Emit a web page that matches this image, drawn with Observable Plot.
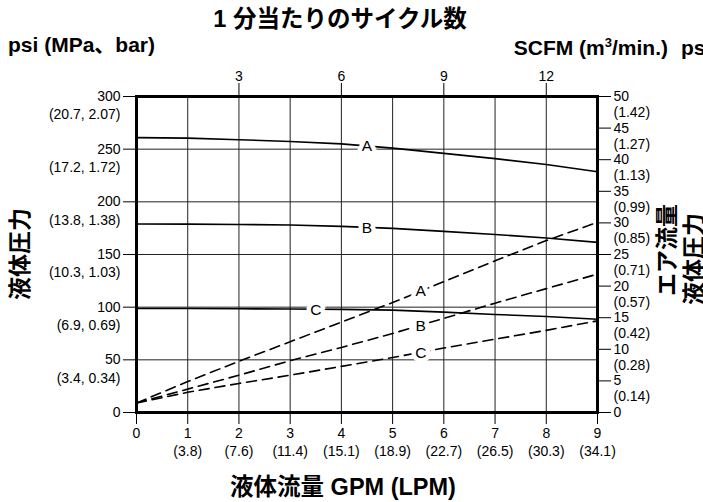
<!DOCTYPE html>
<html>
<head>
<meta charset="utf-8">
<script src="https://cdn.jsdelivr.net/npm/d3@7"></script>
<script src="https://cdn.jsdelivr.net/npm/@observablehq/plot@0.6"></script>
<style>
  html, body { margin: 0; padding: 0; background: #fff; }
  #wrap { position: relative; width: 703px; height: 502px; overflow: hidden; background: #fff; }
  #chart { position: absolute; left: 0; top: 0; }
  .t { position: absolute; font-family: "Liberation Sans", Arial, "Noto Sans CJK JP", sans-serif; font-weight: bold; color: #000; white-space: nowrap; line-height: 1; }
  .v { transform-origin: center center; }
  sup { font-size: 0.62em; vertical-align: 0.6em; line-height: 0; }
</style>
</head>
<body>
<div id="wrap">
  <div id="chart"></div>
  <div class="t" id="title" style="font-size:23.5px; left:340px; top:20px; transform:translate(-50%,-50%);">1 分当たりのサイクル数</div>
  <div class="t" style="font-size:21px; left:8px; top:44px; transform:translate(0,-50%);">psi (MPa、bar)</div>
  <div class="t" style="font-size:21px; right:35px; top:47px; transform:translate(0,-50%);">SCFM (m<sup>3</sup>/min.)</div>
  <div class="t" style="font-size:21px; left:681px; top:47px; transform:translate(0,-50%);">psi (MPa、bar)</div>
  <div class="t v" style="font-size:23px; left:20px; top:254px; transform:translate(-50%,-50%) rotate(-90deg);">液体圧力</div>
  <div class="t v" style="font-size:23px; left:667px; top:250px; transform:translate(-50%,-50%) rotate(-90deg);">エア流量</div>
  <div class="t v" style="font-size:23px; left:694px; top:259px; transform:translate(-50%,-50%) rotate(-90deg);">液体圧力</div>
  <div class="t" style="font-size:23.5px; left:343px; top:488px; transform:translate(-50%,-50%);">液体流量 GPM (LPM)</div>
</div>
<script>
// ---- data ----
const gpm = [0, 1, 2, 3, 4, 5, 6, 7, 8, 9];
// fluid pressure (psi) – solid curves
const pressureA = [261, 260.5, 259, 257.3, 255, 251, 246, 241, 235.5, 228.5];
const pressureB = [179, 178.8, 178.5, 178, 176.7, 174.8, 172, 169, 165.6, 161.5];
const pressureC = [98.8, 98.7, 98.5, 98.2, 97.9, 97.2, 95.3, 93.1, 91.1, 88.6];
// air flow (SCFM) – dashed curves
const airA = [1.5, 4.9, 8.1, 11.2, 14.3, 17.4, 20.7, 24.0, 27.2, 30.1];
const airB = [1.5, 3.7, 5.9, 8.2, 10.3, 12.5, 14.9, 17.3, 19.6, 21.9];
const airC = [1.5, 3.2, 4.6, 5.9, 7.3, 8.7, 10.2, 11.6, 13.0, 14.5];
const seriesNames = ["A", "B", "C"];

// curve label positions (data space)
const solidLabelGpm = [4.5, 4.5, 3.5];
const solidLabelPsi = [253, 175.5, 97];
const dashedLabelGpm = [5.55, 5.55, 5.55];
const dashedLabelScfm = [19.2, 13.7, 9.4];

// axes
const leftTicks = [0, 50, 100, 150, 200, 250, 300];
const leftParen = ["", "(3.4, 0.34)", "(6.9, 0.69)", "(10.3, 1.03)", "(13.8, 1.38)", "(17.2, 1.72)", "(20.7, 2.07)"];
const rightTicks = [0, 5, 10, 15, 20, 25, 30, 35, 40, 45, 50];
const rightParen = ["", "(0.14)", "(0.28)", "(0.42)", "(0.57)", "(0.71)", "(0.85)", "(0.99)", "(1.13)", "(1.27)", "(1.42)"];
const bottomTicks = [0, 1, 2, 3, 4, 5, 6, 7, 8, 9];
const bottomParen = ["", "(3.8)", "(7.6)", "(11.4)", "(15.1)", "(18.9)", "(22.7)", "(26.5)", "(30.3)", "(34.1)"];
const topTickCycles = [3, 6, 9, 12];
const CYCLES_PER_GPM = 1.5;   // top axis: cycles per minute
const PSI_PER_SCFM = 6;       // right axis: 50 SCFM <-> 300 psi

// ---- tables ----
const solidRows = [];
const dashedRows = [];
[pressureA, pressureB, pressureC].forEach((arr, s) => arr.forEach((v, i) => solidRows.push({series: seriesNames[s], gpm: gpm[i], psi: v})));
[airA, airB, airC].forEach((arr, s) => arr.forEach((v, i) => dashedRows.push({series: seriesNames[s], gpm: gpm[i], psi: v * PSI_PER_SCFM})));
const solidLabels = seriesNames.map((n, i) => ({text: n, gpm: solidLabelGpm[i], psi: solidLabelPsi[i]}));
const dashedLabels = seriesNames.map((n, i) => ({text: n, gpm: dashedLabelGpm[i], psi: dashedLabelScfm[i] * PSI_PER_SCFM}));
const leftParenRows = leftTicks.map((t, i) => ({psi: t, text: leftParen[i]}));
const rightParenRows = rightTicks.map((t, i) => ({psi: t * PSI_PER_SCFM, text: rightParen[i]}));
const bottomParenRows = bottomTicks.map((t, i) => ({gpm: t, text: bottomParen[i]}));

const chart = Plot.plot({
  width: 703,
  height: 502,
  marginLeft: 136,
  marginRight: 106,
  marginTop: 96,
  marginBottom: 90,
  style: {fontFamily: "'Liberation Sans', Arial, sans-serif", fontSize: "14px", color: "#000", background: "#fff"},
  x: {domain: [0, 9]},
  y: {domain: [0, 300]},
  marks: [
    Plot.gridX(bottomTicks, {stroke: "#222", strokeOpacity: 1, strokeWidth: 1}),
    Plot.gridY(leftTicks, {stroke: "#222", strokeOpacity: 1, strokeWidth: 1}),
    Plot.line(solidRows, {x: "gpm", y: "psi", z: "series", stroke: "#000", strokeWidth: 1.6}),
    Plot.line(dashedRows, {x: "gpm", y: "psi", z: "series", stroke: "#000", strokeWidth: 1.6, strokeDasharray: "10,6"}),
    Plot.text(solidLabels, {x: "gpm", y: "psi", text: "text", fontSize: 15.5, fill: "#000", stroke: "#fff", strokeWidth: 9, paintOrder: "stroke"}),
    Plot.text(dashedLabels, {x: "gpm", y: "psi", text: "text", fontSize: 15.5, fill: "#000", stroke: "#fff", strokeWidth: 9, paintOrder: "stroke"}),
    Plot.frame({stroke: "#000", strokeWidth: 3}),
    Plot.axisY({anchor: "left", ticks: leftTicks, tickSize: 13, tickPadding: 3, tickFormat: d => String(d), label: null}),
    Plot.text(leftParenRows, {y: "psi", text: "text", frameAnchor: "left", textAnchor: "end", dx: -16, dy: 18.5}),
    Plot.axisY({anchor: "right", ticks: rightTicks.map(t => t * PSI_PER_SCFM), tickSize: 13, tickPadding: 3, tickFormat: d => String(Math.round(d / PSI_PER_SCFM)), label: null}),
    Plot.text(rightParenRows, {y: "psi", text: "text", frameAnchor: "right", textAnchor: "start", dx: 16, dy: 16}),
    Plot.axisX({anchor: "bottom", ticks: bottomTicks, tickSize: 12, tickPadding: 4, tickFormat: d => String(d), label: null}),
    Plot.text(bottomParenRows, {x: "gpm", text: "text", frameAnchor: "bottom", dy: 43}),
    Plot.axisX({anchor: "top", ticks: topTickCycles.map(c => c / CYCLES_PER_GPM), tickSize: 14, tickPadding: 2, tickFormat: d => String(Math.round(d * CYCLES_PER_GPM)), label: null})
  ]
});
document.getElementById("chart").appendChild(chart);
</script>
</body>
</html>
